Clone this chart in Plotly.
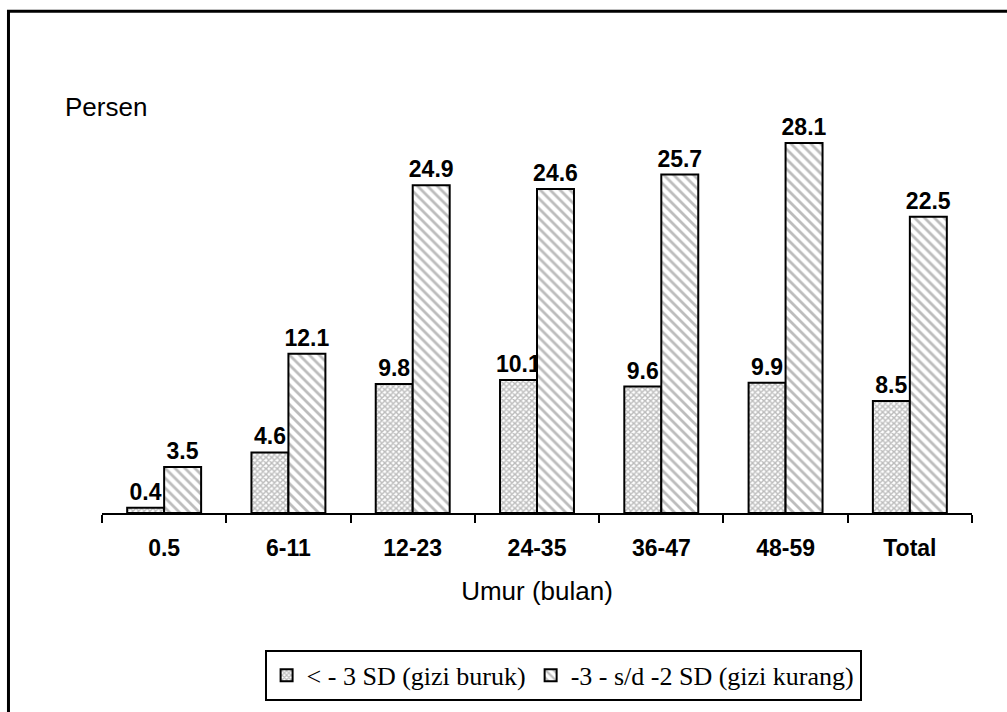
import plotly.graph_objects as go

categories = ["0.5", "6-11", "12-23", "24-35", "36-47", "48-59", "Total"]
gizi_buruk = [0.4, 4.6, 9.8, 10.1, 9.6, 9.9, 8.5]
gizi_kurang = [3.5, 12.1, 24.9, 24.6, 25.7, 28.1, 22.5]
series_names = ["&lt; - 3 SD (gizi buruk)", "-3 - s/d -2 SD (gizi kurang)"]

label_font = dict(family="Arial", size=23, color="black", weight="bold")

fig = go.Figure()
fig.add_trace(go.Bar(
    x=categories, y=gizi_buruk, name=series_names[0],
    marker=dict(color="white", line=dict(color="black", width=2),
                pattern=dict(shape="x", fgcolor="#7a7a7a", bgcolor="white", size=4, solidity=0.6)),
    text=[f"{v:.1f}" for v in gizi_buruk], textposition="outside",
    textfont=label_font, cliponaxis=False, constraintext="none",
))
fig.add_trace(go.Bar(
    x=categories, y=gizi_kurang, name=series_names[1],
    marker=dict(color="white", line=dict(color="black", width=2),
                pattern=dict(shape="\\", fgcolor="#7a7a7a", bgcolor="white", size=7, solidity=0.4)),
    text=[f"{v:.1f}" for v in gizi_kurang], textposition="outside",
    textfont=label_font, cliponaxis=False, constraintext="none",
))

fig.update_layout(
    width=1007, height=712,
    margin=dict(l=102, r=35, t=118, b=198),
    paper_bgcolor="white", plot_bgcolor="white",
    barmode="group", bargap=0.405, bargroupgap=0,
    showlegend=True,
    legend=dict(orientation="h", x=0.53, xanchor="center", y=-0.343, yanchor="top",
                bordercolor="black", borderwidth=2,
                font=dict(family="Liberation Serif", size=26, color="black"),
                itemwidth=30, tracegroupgap=0),
    xaxis=dict(
        type="category", showline=True, linecolor="black", linewidth=2,
        ticks="outside", tickson="boundaries", ticklen=8, tickwidth=2, tickcolor="black",
        tickfont=dict(family="Arial", size=23, color="black", weight="bold"),
        ticklabelstandoff=13,
        title=dict(text="Umur (bulan)", font=dict(family="Arial", size=26, color="black"), standoff=22),
        showgrid=False, zeroline=False,
    ),
    yaxis=dict(range=[0, 30], visible=False, showgrid=False, zeroline=False),
    annotations=[dict(text="Persen", xref="paper", yref="paper", x=-0.045, y=1.028,
                      xanchor="left", yanchor="middle", showarrow=False,
                      font=dict(family="Arial", size=26, color="black"))],
    shapes=[dict(type="rect", xref="paper", yref="paper", x0=-0.1075, x1=1.05, y0=-0.52, y1=1.27,
                 line=dict(color="black", width=3), fillcolor="rgba(0,0,0,0)", layer="below")],
)

fig.write_html("out.html")
